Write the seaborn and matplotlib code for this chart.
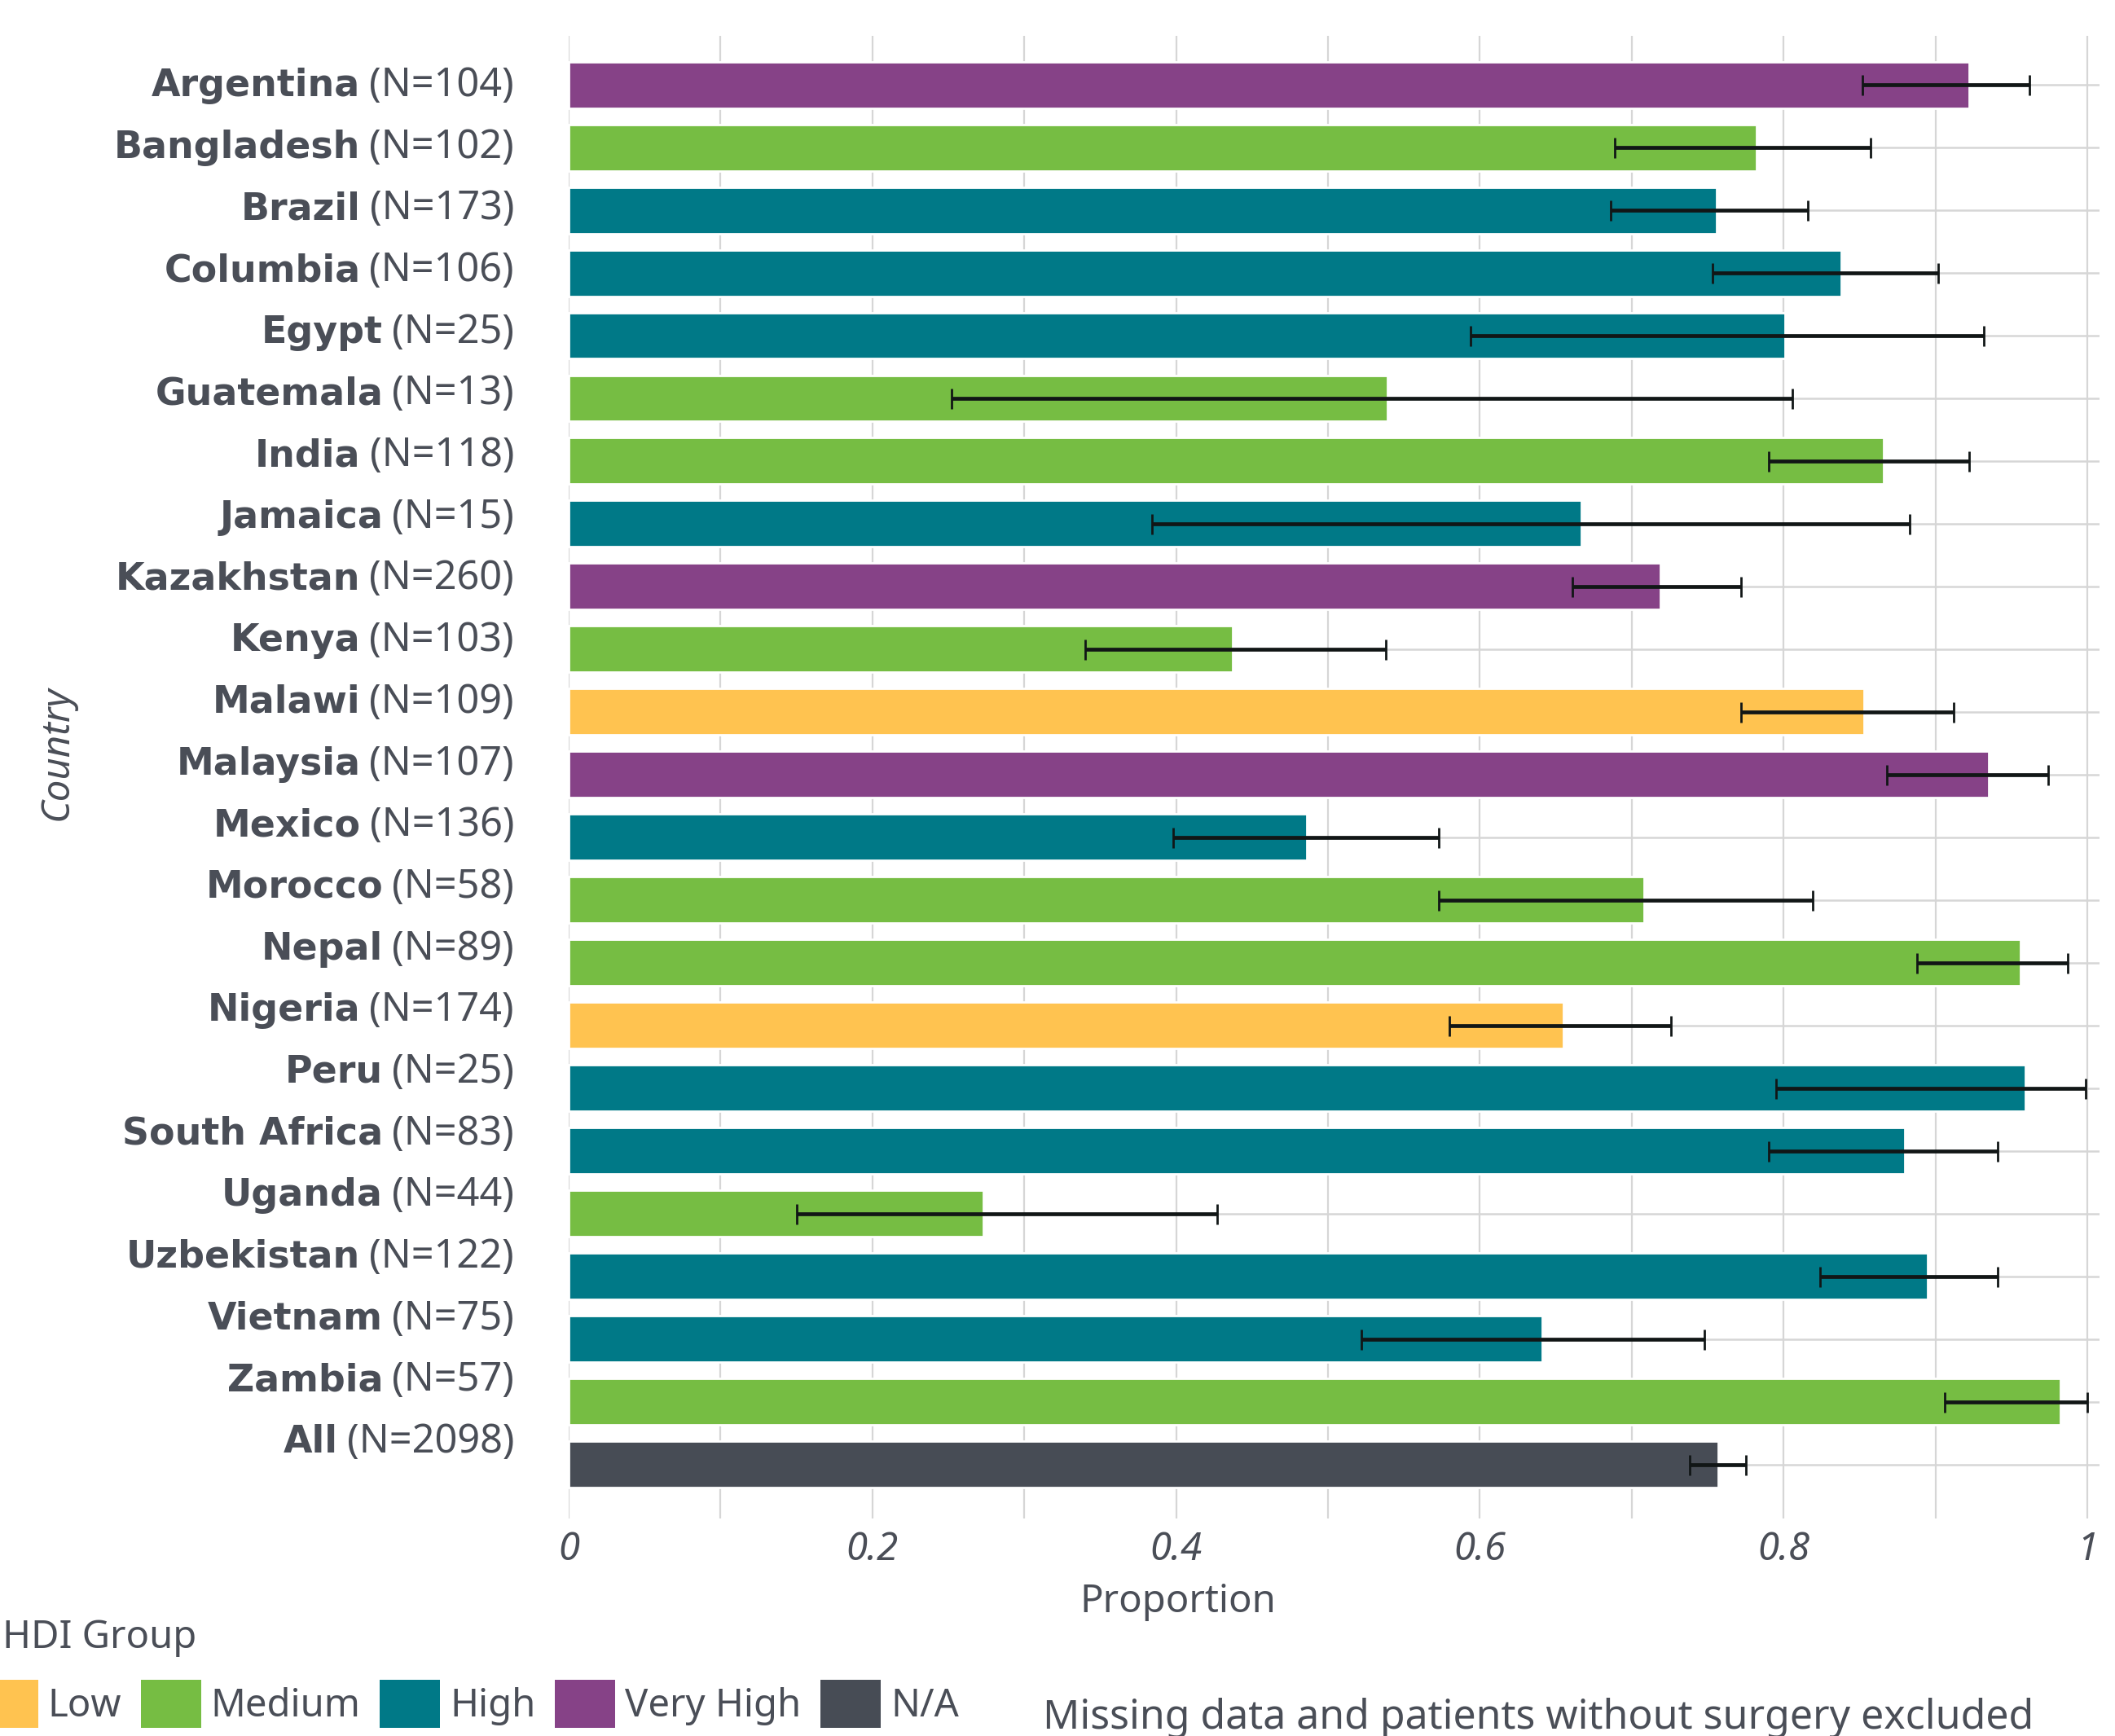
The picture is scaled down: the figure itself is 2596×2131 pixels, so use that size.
import numpy as np
import pandas as pd
import matplotlib
matplotlib.use("Agg")
import matplotlib.pyplot as plt
import matplotlib.transforms as mtransforms
from matplotlib.patches import Patch
import seaborn as sns

countries = ["Argentina", "Bangladesh", "Brazil", "Columbia", "Egypt", "Guatemala",
             "India", "Jamaica", "Kazakhstan", "Kenya", "Malawi", "Malaysia", "Mexico",
             "Morocco", "Nepal", "Nigeria", "Peru", "South Africa", "Uganda",
             "Uzbekistan", "Vietnam", "Zambia", "All"]
n_patients = [104, 102, 173, 106, 25, 13, 118, 15, 260, 103, 109, 107, 136,
              58, 89, 174, 25, 83, 44, 122, 75, 57, 2098]
hdi_group = ["Very High", "Medium", "High", "High", "High", "Medium",
             "Medium", "High", "Very High", "Medium", "Low", "Very High", "High",
             "Medium", "Medium", "Low", "High", "High", "Medium",
             "High", "High", "Medium", "N/A"]
proportion = [0.922, 0.782, 0.756, 0.838, 0.801, 0.539,
              0.866, 0.667, 0.719, 0.437, 0.853, 0.935, 0.486,
              0.708, 0.956, 0.655, 0.959, 0.880, 0.273,
              0.895, 0.641, 0.982, 0.757]
ci_low = [0.852, 0.689, 0.686, 0.753, 0.594, 0.252,
          0.790, 0.384, 0.661, 0.340, 0.772, 0.868, 0.398,
          0.573, 0.888, 0.580, 0.795, 0.790, 0.150,
          0.824, 0.522, 0.906, 0.738]
ci_high = [0.962, 0.857, 0.816, 0.902, 0.932, 0.806,
           0.922, 0.883, 0.772, 0.538, 0.912, 0.974, 0.573,
           0.819, 0.987, 0.726, 0.999, 0.941, 0.427,
           0.941, 0.748, 1.000, 0.775]

hdi_order = ["Low", "Medium", "High", "Very High", "N/A"]
hdi_colors = ["#FFC350", "#76BD43", "#007987", "#864287", "#474C55"]

TXT = "#4A4E57"
GRID = "#D6D6D6"
DPI = 200

sns.set_style("white")
plt.rcParams["font.family"] = ["Noto Sans", "DejaVu Sans"]
plt.rcParams["text.color"] = TXT

df = pd.DataFrame({"country": countries, "n": n_patients, "prop": proportion,
                   "hdi": hdi_group, "lo": ci_low, "hi": ci_high})

fig = plt.figure(figsize=(12.98, 10.655), dpi=DPI)
ax = fig.add_axes([698 / 2596, 1 - 1864 / 2131, (2577 - 698) / 2596, (1864 - 44) / 2131])

sns.barplot(data=df, x="prop", y="country", hue="hdi", hue_order=hdi_order,
            palette=hdi_colors, dodge=False, width=0.74, errorbar=None,
            legend=False, saturation=1, ax=ax, zorder=2)

ypos = np.arange(len(df))
ax.errorbar(df["prop"], ypos, xerr=[df["prop"] - df["lo"], df["hi"] - df["prop"]],
            fmt="none", ecolor="#111616", elinewidth=1.7, capsize=4.5,
            capthick=1.0, zorder=3)

ax.set_xlim(0, 1.008)
ax.set_ylim(len(df) - 1 + 0.86, -0.78)
ax.set_xticks(np.arange(0, 1.01, 0.2))
ax.set_xticklabels(["0", "0.2", "0.4", "0.6", "0.8", "1"], fontstyle="italic")
ax.set_xticks(np.arange(0.1, 1.0, 0.2), minor=True)
ax.set_axisbelow(True)
ax.grid(axis="x", which="both", color=GRID, lw=0.8)
ax.grid(axis="y", color=GRID, lw=0.9)
for s in ax.spines.values():
    s.set_visible(False)

ax.tick_params(axis="x", which="both", length=0, pad=5.5, labelsize=17, labelcolor=TXT)
ax.tick_params(axis="y", length=8.3, width=0.9, color=GRID, labelleft=False)

ax.set_ylabel("")
ax.set_xlabel("Proportion", fontsize=17, color=TXT)
ax.xaxis.set_label_coords(0.398, -0.0434, transform=ax.transAxes)
ax.xaxis.label.set_va("top")

# row labels: bold country + regular (N=...), labels drift slightly upward like the original
fig.canvas.draw()
renderer = fig.canvas.get_renderer()
base = ax.get_yaxis_transform()
x_right = (631 - 698) / (2577 - 698)
for i, (c, n) in enumerate(zip(df["country"], df["n"])):
    y = i * 0.983
    down = mtransforms.ScaledTranslation(0, -14 / DPI, fig.dpi_scale_trans)
    t = ax.text(x_right, y, f"(N={n})", fontsize=17.5, color=TXT, ha="right",
                va="baseline", transform=base + down)
    w = t.get_window_extent(renderer).width
    shift = mtransforms.ScaledTranslation(-(w + 11) / DPI, -14 / DPI, fig.dpi_scale_trans)
    ax.text(x_right, y, c, fontsize=16.5, fontweight="bold", family="DejaVu Sans",
            color=TXT, ha="right", va="baseline", transform=base + shift)

fig.text(70 / 2596, 1 - 924 / 2131, "Country", rotation=90, fontsize=17,
         fontstyle="italic", color=TXT, ha="center", va="center")

# legend
fig.text(3 / 2596, 1 - 2023 / 2131, "HDI Group", fontsize=17, color=TXT,
         ha="left", va="baseline")
handles = [Patch(facecolor=c, edgecolor="none") for c in hdi_colors]
fig.legend(handles, hdi_order, ncol=5, frameon=False,
           loc="upper left", bbox_to_anchor=(-0.0196, 1 - 2038 / 2131),
           fontsize=17, borderpad=0, handlelength=1.57,
           handleheight=1.57, handletextpad=0.25, columnspacing=0.5,
           labelcolor=TXT)

fig.text(1280 / 2596, 1 - 2122 / 2131, "Missing data and patients without surgery excluded",
         fontsize=18, color=TXT, ha="left", va="baseline")

fig.savefig("out.png", dpi=DPI)
